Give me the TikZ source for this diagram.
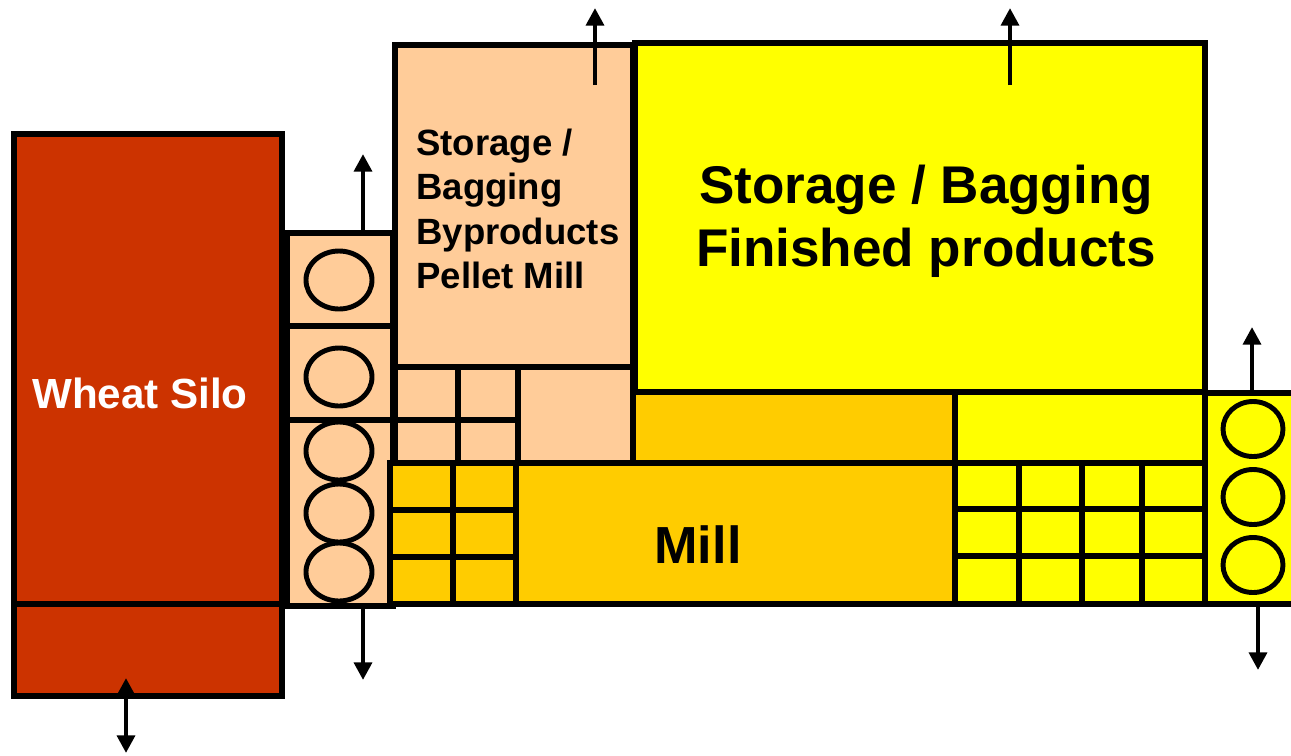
\documentclass[tikz,border=0pt]{standalone}
\usepackage{fontspec}
\setmainfont{Liberation Sans}
\usetikzlibrary{arrows.meta}
\definecolor{SiloRed}{RGB}{204,51,0}
\definecolor{SoftPeach}{RGB}{255,204,153}
\definecolor{MillGold}{RGB}{255,204,0}
\definecolor{BrightYellow}{RGB}{255,255,0}
\tikzset{
  room/.style={draw=black,line width=3.1pt},
  bin/.style={draw=black,line width=2.8pt},
  flow/.style={-{Triangle[width=10pt,length=10pt]},line width=2.8pt},
  twoway/.style={{Triangle[width=10pt,length=10pt]}-{Triangle[width=10pt,length=10pt]},
    line width=2.8pt},
  roomtext/.style={inner sep=0pt,align=center}
}

\begin{document}
\begin{tikzpicture}[x=0.02cm,y=-0.02cm]
\useasboundingbox (0,0) rectangle (1291,755);

\draw[room,fill=SiloRed] (14,134) rectangle (282,696);
\draw[room] (14,604) -- (282,604);
\node[roomtext,white,font=\fontsize{24}{29}\selectfont\bfseries] (silo) at (140,393)
  {Wheat Silo};
\draw[twoway] (126,678) -- (126,753);

\draw[room,fill=SoftPeach] (287,233) rectangle (393,606);
\draw[room,fill=SoftPeach] (395,367) rectangle (633,463);
\draw[room] (287,326) -- (393,326);
\draw[room] (287,420) -- (517,420);
\foreach \x in {458,518}
  \draw[room] (\x,367) -- (\x,463);
\foreach \y in {280,377,451,513,572}
  \draw[bin] (339,\y) ellipse (33 and 29);
\draw[flow] (363,233) -- (363,154);
\draw[flow] (363,606) -- (363,680);

\draw[room,fill=SoftPeach] (395,45) rectangle (633,367);
\node[roomtext,align=left,anchor=west,font=\fontsize{20.8}{25.3}\selectfont\bfseries]
  (byproducts) at (416,209) {Storage /\\Bagging\\Byproducts\\Pellet Mill};
\draw[flow] (595,85) -- (595,8);

\draw[room,fill=MillGold] (633,392) rectangle (955,463);
\draw[room,fill=MillGold] (390,463) rectangle (955,604);
\foreach \x in {453,516}
  \draw[room] (\x,463) -- (\x,604);
\foreach \y in {510,557}
  \draw[room] (390,\y) -- (516,\y);
\node[roomtext,font=\fontsize{29.7}{36}\selectfont\bfseries] (mill) at (698,545) {Mill};

\draw[room,fill=BrightYellow] (635,43) rectangle (1205,392);
\node[roomtext,font=\fontsize{30.2}{36}\selectfont\bfseries] (finished) at (926,221)
  {Storage / Bagging\\Finished products};
\draw[flow] (1010,85) -- (1010,8);

\draw[room,fill=BrightYellow] (955,392) rectangle (1205,604);
\draw[room] (955,463) -- (1205,463);
\foreach \x in {1019,1082,1142}
  \draw[room] (\x,463) -- (\x,604);
\foreach \y in {509,556}
  \draw[room] (955,\y) -- (1205,\y);

\fill[BrightYellow] (1205,393) rectangle (1291,604);
\draw[room] (1295,393) -- (1205,393) -- (1205,604) -- (1295,604);
\foreach \y in {429,497,565}
  \draw[bin] (1253,\y) ellipse (30 and 27.5);
\draw[flow] (1252,393) -- (1252,327);
\draw[flow] (1258,604) -- (1258,670);
\end{tikzpicture}
\end{document}
